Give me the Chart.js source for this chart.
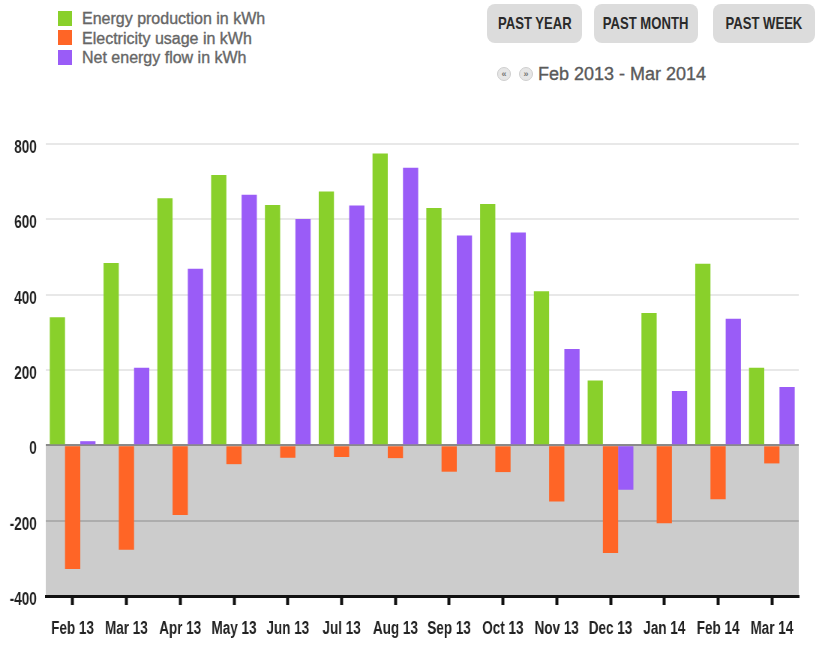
<!DOCTYPE html>
<html>
<head>
<meta charset="utf-8">
<script src="https://cdn.jsdelivr.net/npm/chart.js@4.4.1/dist/chart.umd.min.js"></script>
<style>
  html, body { margin: 0; padding: 0; background: #fff; width: 816px; height: 648px; overflow: hidden;
    font-family: "Liberation Sans", Arial, sans-serif; }
  #legend { position: absolute; left: 58px; top: 9px; margin: 0; padding: 0; list-style: none; }
  #legend li { position: relative; height: 19.5px; line-height: 19.5px; padding-left: 24px;
    font-size: 16px; color: #666; -webkit-text-stroke: 0.35px #666; white-space: nowrap; }
  #legend li span { position: absolute; left: 0; top: 1.5px; width: 14px; height: 15px; }
  .btn { position: absolute; top: 4px; height: 39px; border-radius: 8px; background: #dcdcdc;
    display: flex; align-items: center; justify-content: center; }
  .btn b { display: inline-block; font-size: 17px; color: #2a2a2a; transform: scaleX(0.77); white-space: nowrap; }
  .nav { position: absolute; top: 67px; width: 14px; height: 14px; border-radius: 50%;
    background: #e6e6e6; border: 1px solid #cfcfcf; box-sizing: border-box; color: #777;
    font-size: 9px; line-height: 12px; text-align: center; font-weight: bold; }
  #range { position: absolute; left: 538px; top: 64px; font-size: 18px; color: #5a5a5a;
    -webkit-text-stroke: 0.35px #5a5a5a; white-space: nowrap; }
  /* the chart is drawn wide and squeezed horizontally for narrow, tall lettering */
  #wrap { position: absolute; left: 0; top: 120px; width: 1088px; height: 528px;
    transform: scaleX(0.75); transform-origin: 0 0; }
</style>
</head>
<body>
<ul id="legend"></ul>
<div class="btn" style="left:487px;width:95px;"><b>PAST YEAR</b></div>
<div class="btn" style="left:594px;width:104px;"><b>PAST MONTH</b></div>
<div class="btn" style="left:713px;width:102px;"><b>PAST WEEK</b></div>
<div class="nav" style="left:497px;">&laquo;</div>
<div class="nav" style="left:519px;">&raquo;</div>
<div id="range">Feb 2013 - Mar 2014</div>
<div id="wrap"><canvas id="chart" width="1088" height="528"></canvas></div>

<script>
// Monthly energy balance, Feb 2013 – Mar 2014
const months = ['Feb 13', 'Mar 13', 'Apr 13', 'May 13', 'Jun 13', 'Jul 13', 'Aug 13',
                'Sep 13', 'Oct 13', 'Nov 13', 'Dec 13', 'Jan 14', 'Feb 14', 'Mar 14'];
const energyProduction = [340, 484, 656, 718, 638, 674, 775, 630, 641, 409, 172, 351, 482, 206];
const electricityUsage = [-328, -277, -185, -50, -33, -31, -34, -70, -71, -149, -286, -207, -143, -48];
const netEnergyFlow    = [11, 206, 469, 665, 601, 637, 737, 557, 565, 256, -118, 144, 336, 155];
const yTickValues = [-400, -200, 0, 200, 400, 600, 800];

const FONT = '"Liberation Sans", Arial, sans-serif';

// shade the area below zero
const belowZeroBand = {
  id: 'belowZeroBand',
  beforeDraw(chart) {
    const { ctx, chartArea, scales: { y } } = chart;
    const y0 = y.getPixelForValue(0);
    ctx.save();
    ctx.fillStyle = '#cccccc';
    ctx.fillRect(chartArea.left, y0, chartArea.right - chartArea.left, chartArea.bottom - y0);
    ctx.restore();
  }
};

const chart = new Chart(document.getElementById('chart'), {
  type: 'bar',
  data: {
    labels: months,
    datasets: [
      { label: 'Energy production in kWh', data: energyProduction, backgroundColor: '#89d02b' },
      { label: 'Electricity usage in kWh', data: electricityUsage, backgroundColor: '#ff6526' },
      { label: 'Net energy flow in kWh', data: netEnergyFlow, backgroundColor: '#9a5cf7' }
    ]
  },
  options: {
    responsive: false,
    animation: false,
    layout: { padding: { top: 24, right: 23, left: 0, bottom: 0 } },
    datasets: { bar: { categoryPercentage: 0.85, barPercentage: 1.0 } },
    plugins: { legend: { display: false }, tooltip: { enabled: false } },
    scales: {
      x: {
        grid: { offset: false, drawOnChartArea: false, drawTicks: true, tickLength: 9, tickWidth: 4, tickColor: '#111' },
        border: { display: true, color: '#111', width: 3 },
        ticks: { padding: 13, color: '#222', maxRotation: 0, autoSkip: false,
                 font: { family: FONT, size: 18, weight: 'bold' } },
        afterFit(scale) { scale.height = 52; }
      },
      y: {
        min: -400, max: 800,
        afterBuildTicks(scale) { scale.ticks = yTickValues.map(v => ({ value: v })); },
        ticks: { padding: 12, labelOffset: 4, color: '#222', font: { family: FONT, size: 18, weight: 'bold' } },
        grid: {
          drawTicks: false,
          lineWidth: 2,
          color: c => c.tick.value === 0 ? '#8a8a8a' : (c.tick.value < 0 ? '#adadad' : '#e8e8e8')
        },
        border: { display: false },
        afterFit(scale) { scale.width = 61; }
      }
    }
  },
  plugins: [belowZeroBand]
});

// HTML legend built from the datasets
const legend = document.getElementById('legend');
chart.data.datasets.forEach(ds => {
  const li = document.createElement('li');
  const sw = document.createElement('span');
  sw.style.background = ds.backgroundColor;
  li.appendChild(sw);
  li.appendChild(document.createTextNode(ds.label));
  legend.appendChild(li);
});
</script>
</body>
</html>
